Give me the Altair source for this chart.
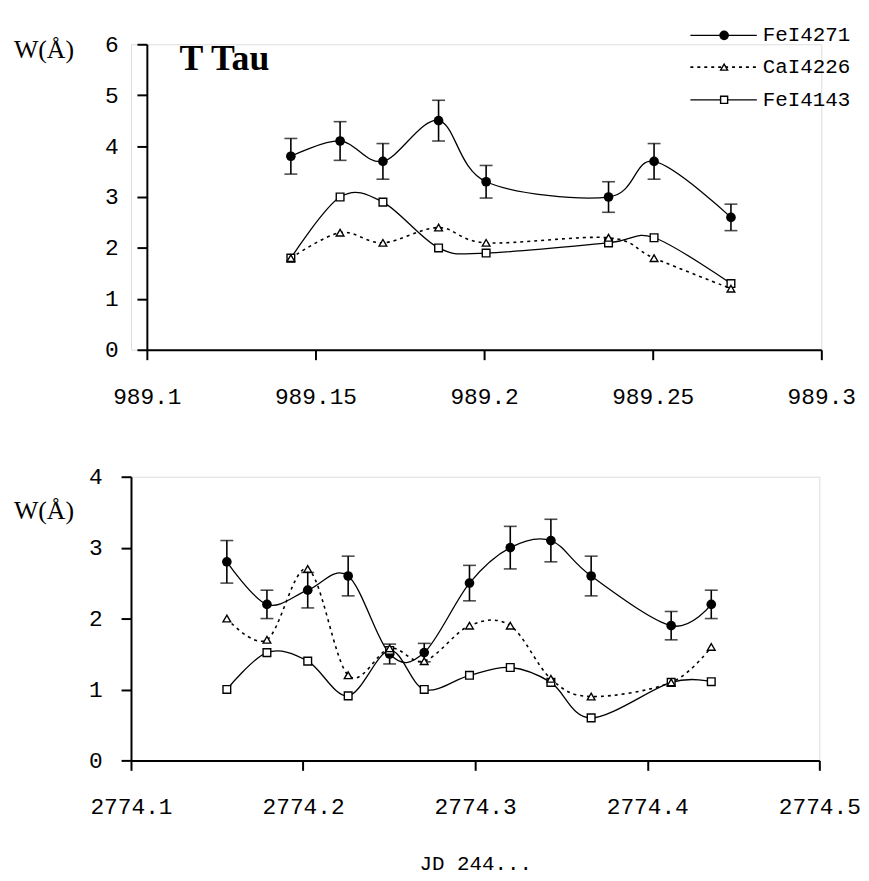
import altair as alt
import pandas as pd

# ---------------- data ----------------
series_names = ["FeI4271", "CaI4226", "FeI4143"]

top_x = [989.1427, 989.1573, 989.1700, 989.1865, 989.2006, 989.2369, 989.2504, 989.2732]
top_fe4271 = [3.8, 4.1, 3.7, 4.5, 3.3, 3.0, 3.7, 2.6]
top_fe4271_err = [0.35, 0.38, 0.35, 0.40, 0.32, 0.30, 0.35, 0.26]
top_ca4226 = [1.8, 2.3, 2.1, 2.4, 2.1, 2.2, 1.8, 1.2]
top_fe4143 = [1.8, 3.0, 2.9, 2.0, 1.9, 2.1, 2.2, 1.3]
top_xticks = [989.1, 989.15, 989.2, 989.25, 989.3]
top_yticks = [0, 1, 2, 3, 4, 5, 6]

bot_x = [2774.1557, 2774.1790, 2774.2027, 2774.2262, 2774.2503, 2774.2704,
         2774.2967, 2774.3204, 2774.3440, 2774.3674, 2774.4139, 2774.4372]
bot_fe4271 = [2.8, 2.2, 2.4, 2.6, 1.5, 1.52, 2.5, 3.0, 3.1, 2.6, 1.9, 2.2]
bot_fe4271_err = [0.30, 0.20, 0.25, 0.28, 0.14, 0.13, 0.25, 0.30, 0.30, 0.28, 0.20, 0.20]
bot_ca4226 = [2.0, 1.7, 2.7, 1.2, 1.58, 1.4, 1.9, 1.9, 1.15, 0.9, 1.1, 1.6]
bot_fe4143 = [1.0, 1.52, 1.4, 0.91, 1.55, 1.0, 1.2, 1.31, 1.1, 0.6, 1.1, 1.11]
bot_xticks = [2774.1, 2774.2, 2774.3, 2774.4, 2774.5]
bot_yticks = [0, 1, 2, 3, 4]

title_text = "T Tau"
ylabel_text = "W(Å)"
xlabel_text = "JD 244..."

MONO = "Liberation Mono"
SERIF = "Liberation Serif"


def panel(xs, fe71, err, ca, fe43, xdom, ydom, xticks, yticks, width, height,
          xrange=None, yoffset=0, xtitle=None, wy=0, extras=()):
    df71 = pd.DataFrame({"x": xs, "y": fe71,
                         "lo": [a - b for a, b in zip(fe71, err)],
                         "hi": [a + b for a, b in zip(fe71, err)]})
    dfca = pd.DataFrame({"x": xs, "y": ca})
    df43 = pd.DataFrame({"x": xs, "y": fe43})

    xscale = dict(domain=xdom, nice=False, zero=False)
    if xrange is not None:
        xscale["range"] = xrange
    xaxis = dict(values=xticks, format=".6~g", grid=False,
                 domainColor="black", domainWidth=2, tickColor="black",
                 tickWidth=2, tickSize=10, labelFont=MONO, labelFontSize=23,
                 labelColor="black", labelPadding=26, labelFlush=False,
                 labelOverlap=False)
    if xtitle:
        xaxis.update(title=xtitle, titleFont=MONO, titleFontSize=21,
                     titleFontWeight="normal", titleColor="black",
                     titlePadding=34)
    else:
        xaxis.update(title="")
    yaxis = dict(values=yticks, format="d", grid=False, title="",
                 domainColor="black", domainWidth=2, tickColor="black",
                 tickWidth=2, tickSize=10, labelFont=MONO, labelFontSize=23,
                 labelColor="black", labelPadding=19, labelOverlap=False,
                 labelFlush=False, offset=yoffset)
    X = alt.X("x:Q", scale=alt.Scale(**xscale), axis=alt.Axis(**xaxis))
    Y = alt.Y("y:Q", scale=alt.Scale(domain=ydom, nice=False, zero=False),
              axis=alt.Axis(**yaxis))

    line71 = alt.Chart(df71).mark_line(interpolate="cardinal", color="black",
                                       strokeWidth=1.3).encode(x=X, y=Y)
    lineca = alt.Chart(dfca).mark_line(interpolate="cardinal", color="black",
                                       strokeWidth=1.6, strokeDash=[3, 4]).encode(x=X, y=Y)
    line43 = alt.Chart(df43).mark_line(interpolate="cardinal", color="black",
                                       strokeWidth=1.3).encode(x=X, y=Y)
    erule = alt.Chart(df71).mark_rule(color="black", strokeWidth=1.6).encode(
        x=X, y=alt.Y("lo:Q"), y2="hi:Q")
    ecap_lo = alt.Chart(df71).mark_tick(color="black", orient="horizontal",
                                        size=13, thickness=1.6).encode(x=X, y=alt.Y("lo:Q"))
    ecap_hi = alt.Chart(df71).mark_tick(color="black", orient="horizontal",
                                        size=13, thickness=1.6).encode(x=X, y=alt.Y("hi:Q"))
    pts71 = alt.Chart(df71).mark_point(shape="circle", filled=True, color="black",
                                       size=95, opacity=1).encode(x=X, y=Y)
    pts43 = alt.Chart(df43).mark_point(shape="square", filled=True, fill="white",
                                       stroke="black", strokeWidth=1.4, size=60,
                                       opacity=1).encode(x=X, y=Y)
    ptsca = alt.Chart(dfca).mark_point(shape="triangle-up", filled=True, fill="white",
                                       stroke="black", strokeWidth=1.4, size=60,
                                       opacity=1).encode(x=X, y=Y)
    wlab = alt.Chart(pd.DataFrame({"t": [ylabel_text]})).mark_text(
        align="left", baseline="middle", font=SERIF, fontSize=26, color="black"
    ).encode(x=alt.value(-118), y=alt.value(wy), text="t:N")

    layers = [line71, lineca, line43, erule, ecap_lo, ecap_hi, pts71, pts43,
              ptsca, wlab] + list(extras)
    return alt.layer(*layers).properties(width=width, height=height)


# ---------------- legend and title (top panel) ----------------
leg_rows = [-9, 23, 56]
legend_layers = []
for i, name in enumerate(series_names):
    d = pd.DataFrame({"t": [name]})
    rule_kw = dict(color="black", strokeWidth=1.3)
    if name == "CaI4226":
        rule_kw.update(strokeDash=[3, 4], strokeWidth=1.6)
    legend_layers.append(alt.Chart(d).mark_rule(**rule_kw).encode(
        x=alt.value(564), x2=alt.value(631), y=alt.value(leg_rows[i])))
    if name == "FeI4271":
        pm = alt.Chart(d).mark_point(shape="circle", filled=True, color="black",
                                     size=95, opacity=1)
    elif name == "CaI4226":
        pm = alt.Chart(d).mark_point(shape="triangle-up", filled=True, fill="white",
                                     stroke="black", strokeWidth=1.4, size=50, opacity=1)
    else:
        pm = alt.Chart(d).mark_point(shape="square", filled=True, fill="white",
                                     stroke="black", strokeWidth=1.4, size=50, opacity=1)
    legend_layers.append(pm.encode(x=alt.value(598), y=alt.value(leg_rows[i])))
    legend_layers.append(alt.Chart(d).mark_text(
        align="left", baseline="middle", font=MONO, fontSize=21, color="black"
    ).encode(x=alt.value(637), y=alt.value(leg_rows[i]), text="t:N"))

title_layer = alt.Chart(pd.DataFrame({"t": [title_text]})).mark_text(
    align="left", baseline="middle", font=SERIF, fontSize=36, fontWeight="bold",
    color="black").encode(x=alt.value(49), y=alt.value(15), text="t:N")

top = panel(top_x, top_fe4271, top_fe4271_err, top_ca4226, top_fe4143,
            [989.1, 989.3], [0, 6], top_xticks, top_yticks, 696, 308,
            xrange=[16, 696], yoffset=-16, wy=6,
            extras=legend_layers + [title_layer])

bottom = panel(bot_x, bot_fe4271, bot_fe4271_err, bot_ca4226, bot_fe4143,
               [2774.1, 2774.5], [0, 4], bot_xticks, bot_yticks, 694, 286,
               xtitle=xlabel_text, wy=35)

chart = alt.vconcat(top, bottom, spacing=56).properties(
    padding={"left": 5, "top": 12, "right": 0, "bottom": 0}
).configure_view(strokeWidth=0).configure(background="white")

chart.save("out.html", embed_options={"renderer": "svg", "actions": False})
